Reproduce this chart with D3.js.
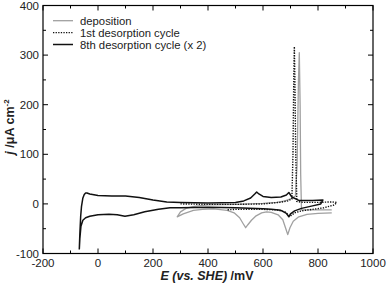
<!DOCTYPE html>
<html><head><meta charset="utf-8">
<script src="https://cdn.jsdelivr.net/npm/d3@7"></script>
<style>
html,body{margin:0;padding:0;background:#fff;}
svg{display:block;font-family:"Liberation Sans",Arial,sans-serif;}
</style></head>
<body>
<svg id="chart" width="388" height="287"></svg>
<script>
// ---- data (E in mV vs SHE, j in µA cm^-2) ----
const xTicks = [-200, 0, 200, 400, 600, 800, 1000];
const yTicks = [-100, 0, 100, 200, 300, 400];
const legendLabels = ["deposition", "1st desorption cycle", "8th desorption cycle (x 2)"];

// deposition (grey)
const depE = [850, 800, 760, 730, 710, 698, 690, 683, 672, 655, 630, 613, 595, 575, 558, 545, 537, 528, 515, 495, 470, 420, 380, 347, 310, 288,
              300, 320, 350, 400, 500, 600, 650, 680, 700, 718, 724, 729, 732, 735, 737, 740, 800, 850];
const depJ = [-18, -19, -21, -26, -35, -48, -62, -50, -32, -22, -17, -16, -18, -24, -33, -42, -48, -40, -28, -18, -13, -10, -11, -13, -20, -26,
              -16, -9, -5, -2, -1, 1, 3, 6, 10, 16, 80, 250, 305, 200, 60, -12, -12, -12];

// 1st desorption cycle (dotted)
const d1E = [300, 400, 500, 600, 660, 690, 705, 709, 712, 714, 716, 719, 723, 745, 800, 850, 868,
             860, 820, 780, 740, 715, 698, 680, 650, 600, 500, 468];
const d1J = [0, -1, -1, 0, 3, 6, 10, 100, 260, 317, 250, 100, 5, 3, 3, 4, 3,
             -2, -8, -11, -14, -18, -25, -16, -12, -11, -11, -12];

// 8th desorption cycle x2 (black)
const d8E = [-68, -66, -63, -60, -55, -50, -45, -40, -30, -10, 0, 50, 100, 150, 200, 250, 300, 400, 500, 530, 555, 570, 577, 585, 600, 630, 665, 685, 694, 705, 730, 780, 818,
             810, 780, 740, 715, 700, 694, 685, 665, 630, 600, 550, 500, 400, 300, 262, 220, 170, 130, 98, 70, 40, 0, -30, -45, -55, -62, -66, -68];
const d8J = [-92, -60, -25, -5, 12, 19, 22, 22, 20, 18, 17, 16, 16, 13, 8, 4, 3, 2, 3, 6, 12, 20, 24, 20, 15, 13, 14, 18, 23, 14, 7, 7, 8,
             0, -4, -9, -14, -20, -26, -19, -13, -11, -10, -9, -8, -7, -8, -8, -11, -16, -22, -25, -22, -21, -22, -25, -28, -33, -45, -70, -92];

// ---- layout ----
const svg = d3.select("#chart");
const x = d3.scaleLinear().domain([-200, 1000]).range([43, 373]);
const y = d3.scaleLinear().domain([-100, 400]).range([253.5, 5.5]);
const L = x.range()[0], R = x.range()[1], T = y.range()[1], B = y.range()[0];

const line = d3.line().x(d => x(d[0])).y(d => y(d[1]));
const zip = (a, b) => a.map((v, i) => [v, b[i]]);

const plot = svg.append("g");
plot.append("path").datum(zip(depE, depJ)).attr("d", line)
  .attr("fill", "none").attr("stroke", "#a0a0a0").attr("stroke-width", 1.3).attr("stroke-linejoin", "round");
plot.append("path").datum(zip(d8E, d8J)).attr("d", line)
  .attr("fill", "none").attr("stroke", "#111").attr("stroke-width", 1.5).attr("stroke-linejoin", "round");
plot.append("path").datum(zip(d1E, d1J)).attr("d", line)
  .attr("fill", "none").attr("stroke", "#111").attr("stroke-width", 1.4).attr("stroke-dasharray", "1.3,1.3");

// ---- axes ----
const xMinor = d3.range(-200, 1001, 100);
const yMinor = d3.range(-100, 401, 50);
const ax = svg.append("g").attr("stroke", "#000");
xMinor.forEach(v => {
  const l = xTicks.includes(v) ? 5 : 3;
  ax.append("line").attr("x1", x(v)).attr("x2", x(v)).attr("y1", B).attr("y2", B - l);
  ax.append("line").attr("x1", x(v)).attr("x2", x(v)).attr("y1", T).attr("y2", T + l);
});
yMinor.forEach(v => {
  const l = yTicks.includes(v) ? 5 : 3;
  ax.append("line").attr("x1", L).attr("x2", L + l).attr("y1", y(v)).attr("y2", y(v));
  ax.append("line").attr("x1", R).attr("x2", R - l).attr("y1", y(v)).attr("y2", y(v));
});
svg.append("rect").attr("x", L).attr("y", T).attr("width", R - L).attr("height", B - T)
  .attr("fill", "none").attr("stroke", "#000").attr("stroke-width", 1.2);

// tick labels
svg.append("g").selectAll("text").data(xTicks).join("text")
  .attr("x", d => x(d)).attr("y", 267).attr("text-anchor", "middle")
  .attr("font-size", 11.5).attr("fill", "#222").text(d => d);
svg.append("g").selectAll("text").data(yTicks).join("text")
  .attr("x", 39).attr("y", d => y(d) + 4.1).attr("text-anchor", "end")
  .attr("font-size", 11.5).attr("fill", "#222").text(d => d);

// axis titles
const xt = svg.append("text").attr("x", 207).attr("y", 280).attr("text-anchor", "middle")
  .attr("font-size", 12.5).attr("font-weight", "bold").attr("fill", "#222");
xt.append("tspan").attr("font-style", "italic").text("E (vs. SHE)");
xt.append("tspan").text(" /mV");

const yt = svg.append("text").attr("transform", "translate(14,127) rotate(-90)")
  .attr("text-anchor", "middle").attr("font-size", 12.5).attr("font-weight", "bold").attr("fill", "#222");
yt.append("tspan").attr("font-style", "italic").text("j");
yt.append("tspan").text(" /μA cm");
yt.append("tspan").attr("font-size", 8).attr("dy", -5).text("-2");

// legend
const lg = svg.append("g");
const styles = [
  {stroke: "#a0a0a0", w: 1.3, dash: null},
  {stroke: "#111", w: 1.4, dash: "1.3,1.3"},
  {stroke: "#111", w: 1.5, dash: null}
];
legendLabels.forEach((t, i) => {
  const yy = 20.7 + i * 11.9;
  lg.append("line").attr("x1", 53).attr("x2", 73).attr("y1", yy).attr("y2", yy)
    .attr("stroke", styles[i].stroke).attr("stroke-width", styles[i].w)
    .attr("stroke-dasharray", styles[i].dash);
  lg.append("text").attr("x", 80).attr("y", yy + 4).attr("font-size", 11.3).attr("fill", "#222").text(t);
});
</script>
</body></html>
